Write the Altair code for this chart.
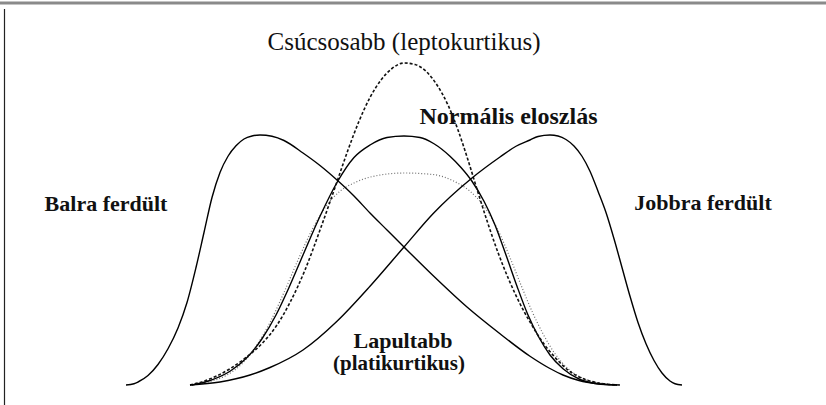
import altair as alt
import pandas as pd

# Horizontal position in score units, vertical height in percent of the normal peak.
left_x = [-27.8, -27.0, -26.6, -25.6, -24.6, -23.6, -22.6, -21.7, -20.8, -20.0, -19.2,
          -18.4, -17.6, -16.8, -16.0, -15.2, -14.4, -13.2, -12.0, -10.1, -8.4, -6.7,
          -5.0, -3.4, -1.7, 0.0, 2.9, 6.3, 9.6, 12.6, 14.5, 15.9, 17.5, 19.3, 21.3]
left_y = [0.0, 0.5, 1.2, 3.8, 8.2, 14.5, 22.8, 33.0, 47.0, 61.0, 75.0,
          85.0, 91.5, 95.7, 98.4, 99.6, 100.0, 99.5, 97.8, 92.8, 87.8, 82.0,
          75.6, 68.8, 62.0, 55.2, 43.8, 31.2, 20.5, 11.5, 6.8, 4.0, 1.8, 0.5, 0.0]

right_x = [-21.4, -18.4, -15.4, -13.4, -10.1, -6.7, -3.4, 0.0, 2.9, 6.8, 9.6, 11.2,
           12.6, 13.4, 14.6, 15.4, 16.2, 17.0, 17.8, 18.6, 19.4, 20.2, 21.0, 21.8,
           22.6, 23.4, 24.2, 25.0, 25.8, 26.6, 27.1, 27.8]
right_y = [0.0, 1.2, 4.0, 7.0, 14.0, 25.5, 39.5, 55.2, 68.5, 82.8, 91.2, 95.5,
           98.0, 99.4, 100.0, 99.6, 98.2, 95.6, 91.5, 85.5, 77.5, 69.0, 58.5, 47.0,
           35.5, 25.0, 16.5, 9.8, 4.8, 1.6, 0.5, 0.0]

normal_x = [-21.2, -19.4, -17.4, -15.7, -14.2, -12.8, -11.5, -10.1, -8.4, -6.7, -5.0,
            -3.4, -1.7, 0.0, 1.6, 3.0, 4.6, 5.7, 6.8, 8.0, 9.1, 10.2, 11.3, 12.4, 13.5,
            14.6, 15.9, 17.6, 19.6, 21.3]
normal_y = [0.0, 1.8, 5.5, 11.0, 18.5, 28.0, 39.0, 52.0, 67.5, 81.0, 91.0,
            96.0, 99.0, 99.6, 99.0, 96.5, 91.5, 87.0, 81.5, 73.5, 64.0, 52.0, 39.5, 28.0,
            19.0, 12.0, 6.5, 2.2, 0.4, 0.0]

lepto_x = [-21.4, -20.4, -18.8, -17.4, -15.8, -14.1, -12.7, -11.4, -9.9, -8.4, -6.9,
           -5.6, -4.5, -3.4, -2.3, -1.2, 0.0, 1.1, 2.2, 3.3, 4.4, 5.4, 6.4, 7.4, 8.4,
           9.4, 10.5, 11.6, 12.7, 13.8, 15.0, 16.4, 18.0, 19.8, 21.6]
lepto_y = [0.0, 1.0, 3.5, 6.5, 11.0, 17.0, 24.0, 33.0, 46.0, 62.0, 79.0,
           94.0, 105.5, 115.0, 122.0, 126.6, 128.8, 128.2, 125.5, 120.0, 112.0, 102.0,
           90.0, 77.0, 64.5, 53.0, 42.0, 32.5, 24.5, 17.5, 11.5, 6.0, 2.4, 0.6, 0.0]

platy_x = [-21.4, -19.6, -17.8, -16.2, -14.8, -13.4, -12.0, -10.6, -9.2, -7.8, -6.4,
           -4.9, -2.9, 0.0, 2.9, 5.0, 6.6, 7.8, 8.8, 9.8, 10.8, 11.8, 12.8, 13.9, 15.1,
           16.5, 18.0, 19.8, 21.3]
platy_y = [0.0, 1.2, 3.8, 8.5, 15.5, 25.0, 37.0, 50.0, 62.0, 71.5, 77.5,
           81.0, 83.6, 84.8, 84.2, 81.5, 77.5, 72.5, 66.5, 58.5, 49.0, 39.0, 29.5, 20.5,
           12.5, 6.2, 2.5, 0.6, 0.0]

# Label text with its anchor (centre x, baseline y) in the same units
labels = ["Csúcsosabb (leptokurtikus)", "Normális eloszlás", "Balra ferdült",
          "Jobbra ferdült", "Lapultabb", "(platikurtikus)"]
label_x = [0.0, 10.45, -29.8, 29.9, -0.1, -0.5]
label_y = [134.0, 104.4, 69.6, 70.0, 14.8, 6.0]
label_size = [25, 24, 22, 22, 22, 21]
label_weight = ["normal", "bold", "bold", "bold", "bold", "bold"]

W, H = 826, 405
xs = alt.Scale(domain=[-40.4, 42.2], range=[0, W], nice=False, zero=False)
ys = alt.Scale(domain=[-8, 154], range=[H, 0], nice=False, zero=False)
SERIF = "Liberation Serif"


def curve(xv, yv, **style):
    df = pd.DataFrame({"x": xv, "y": yv})
    return alt.Chart(df).mark_line(interpolate="monotone", **style).encode(
        x=alt.X("x:Q", scale=xs, axis=None),
        y=alt.Y("y:Q", scale=ys, axis=None),
        order="x:Q",
    )


layers = [
    curve(platy_x, platy_y, color="#6e6e6e", strokeWidth=1.2, strokeDash=[1, 2]),
    curve(normal_x, normal_y, color="black", strokeWidth=1.4),
    curve(lepto_x, lepto_y, color="#111111", strokeWidth=1.6, strokeDash=[3, 2]),
    curve(left_x, left_y, color="black", strokeWidth=1.4),
    curve(right_x, right_y, color="black", strokeWidth=1.4),
]

for t, lx, ly, sz, wt in zip(labels, label_x, label_y, label_size, label_weight):
    df = pd.DataFrame({"x": [lx], "y": [ly], "t": [t]})
    layers.append(
        alt.Chart(df).mark_text(font=SERIF, fontSize=sz, fontWeight=wt, color="#111111",
                                align="center", baseline="alphabetic").encode(
            x=alt.X("x:Q", scale=xs, axis=None),
            y=alt.Y("y:Q", scale=ys, axis=None),
            text="t:N",
        )
    )

# Frame: grey rule across the top and a thin rule down the left side
one = pd.DataFrame({"k": [0]})
layers.append(alt.Chart(one).mark_rule(color="#8a8a8a", strokeWidth=3).encode(
    x=alt.value(0), x2=alt.value(W), y=alt.value(3)))
layers.append(alt.Chart(one).mark_rule(color="#222222", strokeWidth=1.2).encode(
    x=alt.value(4.5), y=alt.value(9), y2=alt.value(H)))

chart = alt.layer(*layers).properties(
    width=W, height=H, padding=0, autosize=alt.AutoSizeParams(type="none"),
    background="white",
).configure_view(stroke=None)

chart.save("out.html", embed_options={"renderer": "svg", "actions": False})
